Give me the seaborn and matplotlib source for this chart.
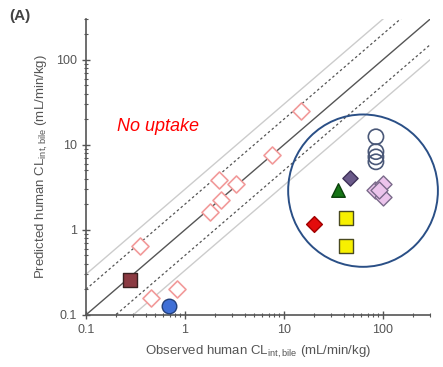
"""
Observed vs predicted human biliary CLint (panel A, no uptake)
"""

import matplotlib.pyplot as plt
import numpy as np
import pandas as pd
import seaborn as sns
from matplotlib.patches import Ellipse
from matplotlib.ticker import LogLocator, NullFormatter

# ============================================================================
# DATA
# ============================================================================

# open pink diamonds (no uptake compounds)
obs_open = [15, 7.5, 2.2, 3.3, 2.3, 1.8, 0.35, 0.45, 0.83]
pred_open = [25, 7.5, 3.9, 3.5, 2.25, 1.6, 0.65, 0.16, 0.2]

# filled markers near the identity line
obs_sq_dark = [0.28]
pred_sq_dark = [0.26]
obs_blue = [0.69]
pred_blue = [0.127]

# circled outliers
obs_red_dia = [20]
pred_red_dia = [1.17]
obs_yellow = [42, 42]
pred_yellow = [1.38, 0.65]
obs_green = [35]
pred_green = [2.95]
obs_purple = [46]
pred_purple = [4.1]
obs_open_circ = [85, 85, 85, 85]
pred_open_circ = [12.4, 8.3, 7.2, 6.3]
obs_lilac = [83, 100, 100, 92]
pred_lilac = [2.95, 3.5, 2.45, 2.95]

fold_dotted = 2
fold_gray = 3
axis_lim = [0.1, 300]

# ============================================================================
# PLOT
# ============================================================================

sns.set_style("ticks")
plt.rcParams["font.family"] = ["Liberation Sans", "DejaVu Sans"]

fig = plt.figure(figsize=(4.43, 3.67), dpi=100)
ax = fig.add_axes([0.194, 0.142, 0.777, 0.806])
ax.set_xscale("log")
ax.set_yscale("log")

# reference lines
ref = np.array(axis_lim)
ax.plot(ref, ref * fold_gray, color="#cccccc", lw=1.0, zorder=1)
ax.plot(ref, ref / fold_gray, color="#cccccc", lw=1.0, zorder=1)
ax.plot(ref, ref * fold_dotted, color="#555555", lw=0.9, ls=(0, (2, 2)), zorder=1)
ax.plot(ref, ref / fold_dotted, color="#555555", lw=0.9, ls=(0, (2, 2)), zorder=1)
ax.plot(ref, ref, color="#555555", lw=1.0, zorder=1)

def add(x, y, marker, face, edge, size, lw=1.0):
    df = pd.DataFrame({"obs": x, "pred": y})
    sns.scatterplot(data=df, x="obs", y="pred", ax=ax, marker=marker, s=size,
                    color=face, edgecolor=edge, linewidth=lw, zorder=3)

add(obs_open, pred_open, "D", "white", "#f29a9a", 75, 1.2)
add(obs_sq_dark, pred_sq_dark, "s", "#8b3a42", "#3a2020", 110)
add(obs_blue, pred_blue, "o", "#3f6fd6", "#23407a", 110)
add(obs_red_dia, pred_red_dia, "D", "#e30c0c", "#a00000", 65)
add(obs_yellow, pred_yellow, "s", "#f7f000", "#4a4a20", 110)
add(obs_green, pred_green, "^", "#167516", "#0a400a", 95)
add(obs_purple, pred_purple, "D", "#6b5a8a", "#3e3058", 60)
add(obs_open_circ, pred_open_circ, "o", "none", "#4a5878", 120, 1.2)
add(obs_lilac, pred_lilac, "D", "#ecc4ec", "#7a6a8a", 75)

# outlier circle (drawn in axes fraction so it stays round)
ax.add_patch(Ellipse((0.805, 0.42), 0.435, 0.515, transform=ax.transAxes,
                     fill=False, edgecolor="#2a4f86", lw=1.4, zorder=4,
                     clip_on=False))

ax.text(0.09, 0.62, "No uptake", transform=ax.transAxes, color="red",
        style="italic", fontsize=13)
fig.text(0.022, 0.945, "(A)", fontsize=11, fontweight="bold", color="#444444")

ax.set_xlim(axis_lim)
ax.set_ylim(axis_lim)
ax.xaxis.set_major_locator(LogLocator(base=10, numticks=10))
ax.yaxis.set_major_locator(LogLocator(base=10, numticks=10))
ax.xaxis.set_minor_locator(LogLocator(base=10, subs=np.arange(2, 10), numticks=20))
ax.yaxis.set_minor_locator(LogLocator(base=10, subs=np.arange(2, 10), numticks=20))
ax.xaxis.set_minor_formatter(NullFormatter())
ax.yaxis.set_minor_formatter(NullFormatter())
ax.set_xticks([0.1, 1, 10, 100])
ax.set_xticklabels(["0.1", "1", "10", "100"])
ax.set_yticks([0.1, 1, 10, 100])
ax.set_yticklabels(["0.1", "1", "10", "100"])
ax.tick_params(which="major", direction="inout", length=6, width=1,
               labelsize=9, labelcolor="#555555", color="#555555")
ax.tick_params(which="minor", direction="inout", length=3, width=0.8,
               color="#555555")

for side in ["top", "right"]:
    ax.spines[side].set_visible(False)
for side in ["left", "bottom"]:
    ax.spines[side].set_color("#555555")
    ax.spines[side].set_linewidth(1.2)

ax.set_xlabel(r"Observed human CL$_{\mathregular{int,bile}}$ (mL/min/kg)",
              fontsize=9.5, color="#555555", labelpad=6)
ax.set_ylabel(r"Predicted human CL$_{\mathregular{int,bile}}$ (mL/min/kg)",
              fontsize=9.5, color="#555555", labelpad=4)

fig.savefig("out.png", dpi=100)
